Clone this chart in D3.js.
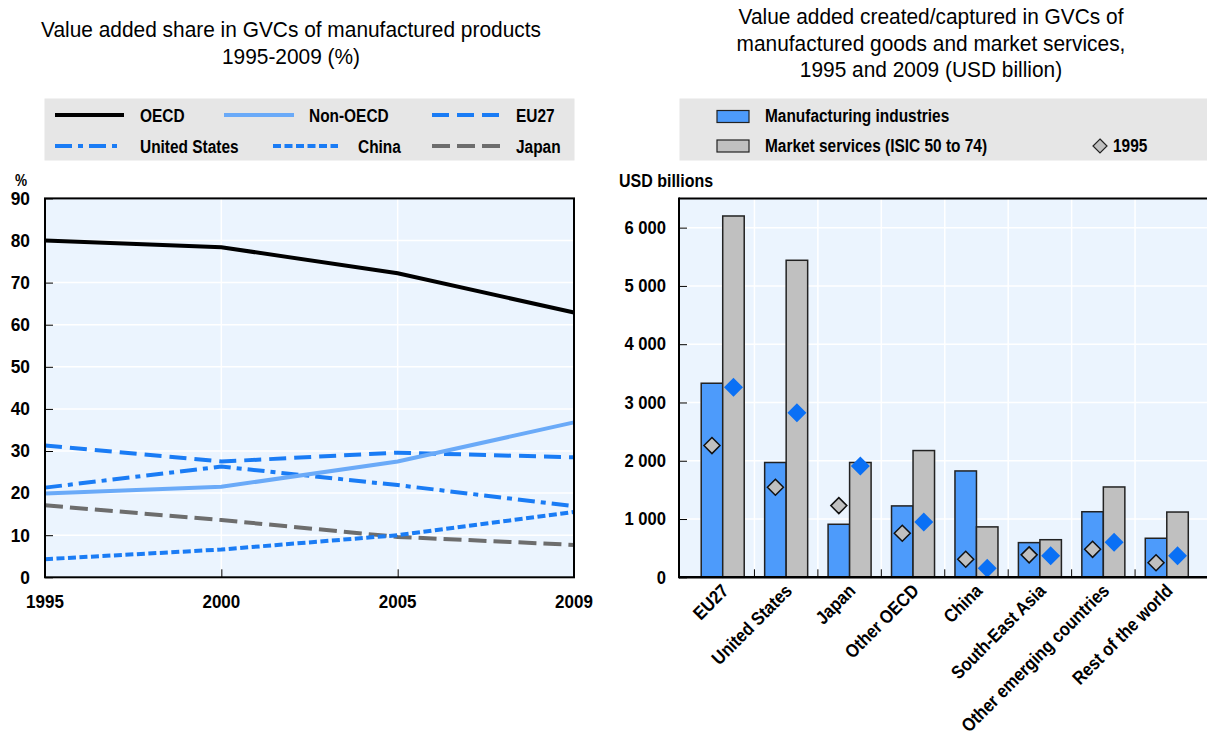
<!DOCTYPE html>
<html>
<head>
<meta charset="utf-8">
<script src="https://cdn.jsdelivr.net/npm/d3@7"></script>
<style>
  html, body { margin: 0; padding: 0; background: #fff; }
  svg { display: block; }
  text { font-family: "Liberation Sans", Arial, sans-serif; fill: #000; }
</style>
</head>
<body>
<svg id="chart" width="1207" height="736"></svg>
<script>
// ---------------- DATA ----------------
const years = ["1995", "2000", "2005", "2009"];
const oecd = [80.0, 78.4, 72.2, 62.9];
const nonOecd = [19.9, 21.5, 27.5, 36.8];
const eu27 = [31.3, 27.5, 29.6, 28.5];
const unitedStates = [21.3, 26.3, 21.9, 16.9];
const china = [4.3, 6.6, 10.0, 15.5];
const japan = [17.1, 13.6, 9.6, 7.7];
const leftTicks = [0, 10, 20, 30, 40, 50, 60, 70, 80, 90];

const regions = ["EU27", "United States", "Japan", "Other OECD", "China", "South-East Asia", "Other emerging countries", "Rest of the world"];
const manuf2009 = [3330, 1970, 910, 1225, 1825, 595, 1125, 670];
const services2009 = [6200, 5440, 1970, 2175, 865, 645, 1550, 1120];
const manuf1995 = [2260, 1545, 1230, 755, 310, 385, 480, 250];
const services1995 = [3260, 2825, 1910, 950, 155, 370, 600, 370];
const rightTicks = [0, 1000, 2000, 3000, 4000, 5000, 6000];
const rightTickLabels = ["0", "1 000", "2 000", "3 000", "4 000", "5 000", "6 000"];

// ---------------- STYLE ----------------
const plotBg = "#ebf4fe";
const legendBg = "#e6e6e6";
const blueBar = "#4d9bfb";
const greyBar = "#c0c0c0";
const blueMark = "#0a70f5";

const svg = d3.select("#chart");

function txt(parent, x, y, str, o) {
  o = o || {};
  const sx = o.sx == null ? 1 : o.sx;
  const rot = o.rotate ? ` rotate(${o.rotate})` : "";
  return parent.append("text")
    .attr("transform", `translate(${x},${y})${rot} scale(${sx},1)`)
    .attr("text-anchor", o.anchor || "start")
    .style("font-size", (o.size || 18) + "px")
    .style("font-weight", o.bold ? "bold" : "normal")
    .text(str);
}

// ================= LEFT CHART =================
const L = { left: 45, right: 574, top: 198.4, bottom: 577.3 };
const xL = d3.scalePoint().domain(years).range([L.left, L.right]);
const yL = d3.scaleLinear().domain([0, 90]).range([L.bottom, L.top]);

txt(svg, 291, 37, "Value added share in GVCs of manufactured products", { size: 22, sx: 0.95, anchor: "middle" });
txt(svg, 291, 64, "1995-2009 (%)", { size: 22, sx: 0.95, anchor: "middle" });

const seriesL = [
  { name: "OECD", values: oecd, color: "#000000", dash: null },
  { name: "Non-OECD", values: nonOecd, color: "#6aaaf8", dash: null },
  { name: "EU27", values: eu27, color: "#1a7cf5", dash: "17,8" },
  { name: "United States", values: unitedStates, color: "#1a7cf5", dash: "17,6,5,6" },
  { name: "China", values: china, color: "#1a7cf5", dash: "8,3.5" },
  { name: "Japan", values: japan, color: "#6d6d6d", dash: "18,7" }
];

// legend left
svg.append("rect").attr("x", 44.5).attr("y", 98.5).attr("width", 530).attr("height", 62)
  .attr("fill", legendBg);
const legL = [
  { s: 0, x1: 55, x2: 124, tx: 140, y: 115 },
  { s: 1, x1: 224, x2: 294, tx: 309, y: 115 },
  { s: 2, x1: 432, x2: 500, tx: 516, y: 115 },
  { s: 3, x1: 55, x2: 122, tx: 140, y: 146 },
  { s: 4, x1: 273, x2: 338, tx: 358, y: 146 },
  { s: 5, x1: 432, x2: 501, tx: 516, y: 146 }
];
legL.forEach(d => {
  const s = seriesL[d.s];
  svg.append("line").attr("x1", d.x1).attr("x2", d.x2).attr("y1", d.y).attr("y2", d.y)
    .attr("stroke", s.color).attr("stroke-width", 4)
    .attr("stroke-dasharray", s.dash);
  txt(svg, d.tx, d.y + 6.5, s.name, { size: 18.6, bold: true, sx: 0.83 });
});

// plot bg
svg.append("rect").attr("x", L.left).attr("y", L.top).attr("width", L.right - L.left)
  .attr("height", L.bottom - L.top).attr("fill", plotBg);
// grid
svg.append("g").selectAll("line").data(leftTicks.slice(1, -1)).join("line")
  .attr("x1", L.left).attr("x2", L.right).attr("y1", d => yL(d)).attr("y2", d => yL(d))
  .attr("stroke", "#fff").attr("stroke-width", 1.5);
svg.append("g").selectAll("line").data(years.slice(1, -1)).join("line")
  .attr("x1", d => xL(d)).attr("x2", d => xL(d)).attr("y1", L.top).attr("y2", L.bottom)
  .attr("stroke", "#fff").attr("stroke-width", 1.5);

// axes
const yAxisL = d3.axisRight(yL).tickValues(leftTicks).tickSize(8).tickFormat("");
svg.append("g").attr("transform", `translate(${L.left},0)`).call(yAxisL)
  .call(g => g.select(".domain").remove())
  .call(g => g.selectAll("line").attr("stroke", "#000").attr("stroke-width", 1));
const yLabG = svg.append("g");
leftTicks.forEach(d => txt(yLabG, 30, yL(d) + 6.3, String(d), { size: 17.9, bold: true, sx: 0.97, anchor: "end" }));
txt(svg, 21, 186, "%", { size: 16, bold: true, sx: 0.85, anchor: "middle" });

const xAxisL = d3.axisTop(xL).tickValues(years.slice(1, -1)).tickSize(8).tickFormat("");
svg.append("g").attr("transform", `translate(0,${L.bottom})`).call(xAxisL)
  .call(g => g.select(".domain").remove())
  .call(g => g.selectAll("line").attr("stroke", "#000").attr("stroke-width", 1));
const xLabG = svg.append("g");
years.forEach(d => txt(xLabG, xL(d), 607.5, d, { size: 17.7, bold: true, sx: 0.96, anchor: "middle" }));

// lines
const lineGen = d3.line().x((d, i) => xL(years[i])).y(d => yL(d));
[5, 4, 3, 2, 1, 0].forEach(i => {
  const s = seriesL[i];
  svg.append("path").datum(s.values).attr("d", lineGen)
    .attr("fill", "none").attr("stroke", s.color).attr("stroke-width", 4)
    .attr("stroke-dasharray", s.dash);
});

// border
svg.append("rect").attr("x", L.left).attr("y", L.top).attr("width", L.right - L.left)
  .attr("height", L.bottom - L.top).attr("fill", "none").attr("stroke", "#000").attr("stroke-width", 2);

// ================= RIGHT CHART =================
const R = { left: 679, right: 1211, top: 198.5, bottom: 577.3 };
const x0 = d3.scaleBand().domain(regions).range([691, 1198.5]).paddingInner(0).paddingOuter(0);
const x1 = d3.scaleBand().domain(["m", "s"]).range([0, x0.bandwidth()]).paddingInner(0).paddingOuter(0.475);
const yR = d3.scaleLinear().domain([0, 6500]).range([R.bottom, R.top]);

txt(svg, 931, 24, "Value added created/captured in GVCs of", { size: 22, sx: 0.95, anchor: "middle" });
txt(svg, 931, 50.5, "manufactured goods and market services,", { size: 22, sx: 0.95, anchor: "middle" });
txt(svg, 931, 77, "1995 and 2009 (USD billion)", { size: 22, sx: 0.95, anchor: "middle" });

// legend right
const diamond = (half) => `M0,${-half}L${half},0L0,${half}L${-half},0Z`;
svg.append("rect").attr("x", 679.5).attr("y", 98.5).attr("width", 540).attr("height", 62)
  .attr("fill", legendBg);
svg.append("rect").attr("x", 717).attr("y", 110.5).attr("width", 32).attr("height", 12)
  .attr("fill", blueBar).attr("stroke", "#222").attr("stroke-width", 1.2);
txt(svg, 765, 122, "Manufacturing industries", { size: 18.6, bold: true, sx: 0.83 });
svg.append("rect").attr("x", 717).attr("y", 140).attr("width", 32).attr("height", 12)
  .attr("fill", greyBar).attr("stroke", "#222").attr("stroke-width", 1.2);
txt(svg, 765, 152, "Market services (ISIC 50 to 74)", { size: 18.6, bold: true, sx: 0.83 });
svg.append("path").attr("d", diamond(7))
  .attr("transform", "translate(1100,146)")
  .attr("fill", greyBar).attr("stroke", "#222").attr("stroke-width", 1.2);
txt(svg, 1113, 152, "1995", { size: 18.6, bold: true, sx: 0.83 });

txt(svg, 619, 187, "USD billions", { size: 18.6, bold: true, sx: 0.86 });

// plot bg
svg.append("rect").attr("x", R.left).attr("y", R.top).attr("width", R.right - R.left)
  .attr("height", R.bottom - R.top).attr("fill", plotBg);
// grid
svg.append("g").selectAll("line").data(rightTicks.slice(1)).join("line")
  .attr("x1", R.left).attr("x2", R.right).attr("y1", d => yR(d)).attr("y2", d => yR(d))
  .attr("stroke", "#fff").attr("stroke-width", 1.5);
const boundaries = regions.slice(1).map(r => x0(r));
svg.append("g").selectAll("line").data(boundaries).join("line")
  .attr("x1", d => d).attr("x2", d => d).attr("y1", R.top).attr("y2", R.bottom)
  .attr("stroke", "#fff").attr("stroke-width", 1.5);

// y axis ticks
const yAxisR = d3.axisRight(yR).tickValues(rightTicks).tickSize(8).tickFormat("");
svg.append("g").attr("transform", `translate(${R.left},0)`).call(yAxisR)
  .call(g => g.select(".domain").remove())
  .call(g => g.selectAll("line").attr("stroke", "#000").attr("stroke-width", 1));
const yRLab = svg.append("g");
rightTicks.forEach((d, i) => txt(yRLab, 666, yR(d) + 6.3, rightTickLabels[i], { size: 17.9, bold: true, sx: 0.93, anchor: "end" }));

// x ticks at boundaries
svg.append("g").selectAll("line").data(boundaries).join("line")
  .attr("x1", d => d).attr("x2", d => d).attr("y1", R.bottom).attr("y2", R.bottom - 8)
  .attr("stroke", "#000").attr("stroke-width", 1);

// bars
const barG = svg.append("g");
regions.forEach((r, i) => {
  const bx = x0(r);
  barG.append("rect").attr("x", bx + x1("m")).attr("y", yR(manuf2009[i]))
    .attr("width", x1.bandwidth()).attr("height", yR(0) - yR(manuf2009[i]))
    .attr("fill", blueBar).attr("stroke", "#222").attr("stroke-width", 1.5);
  barG.append("rect").attr("x", bx + x1("s")).attr("y", yR(services2009[i]))
    .attr("width", x1.bandwidth()).attr("height", yR(0) - yR(services2009[i]))
    .attr("fill", greyBar).attr("stroke", "#222").attr("stroke-width", 1.5);
});
// diamonds
regions.forEach((r, i) => {
  const bx = x0(r);
  svg.append("path").attr("d", diamond(8))
    .attr("transform", `translate(${bx + x1("m") + x1.bandwidth() / 2},${yR(manuf1995[i])})`)
    .attr("fill", greyBar).attr("stroke", "#111").attr("stroke-width", 1.5);
  svg.append("path").attr("d", diamond(9.5))
    .attr("transform", `translate(${bx + x1("s") + x1.bandwidth() / 2},${yR(services1995[i])})`)
    .attr("fill", blueMark);
});

// category labels
const catG = svg.append("g");
regions.forEach(d => txt(catG, x0(d) + x0.bandwidth() / 2 + 7, 592, d,
  { size: 18.6, bold: true, sx: 0.88, anchor: "end", rotate: -45 }));

// border
svg.append("line").attr("x1", R.left).attr("x2", R.right).attr("y1", R.top).attr("y2", R.top)
  .attr("stroke", "#000").attr("stroke-width", 2);
svg.append("line").attr("x1", R.left).attr("x2", R.left).attr("y1", R.top - 1).attr("y2", R.bottom + 1)
  .attr("stroke", "#000").attr("stroke-width", 2);
svg.append("line").attr("x1", R.left).attr("x2", R.right).attr("y1", R.bottom).attr("y2", R.bottom)
  .attr("stroke", "#000").attr("stroke-width", 2.5);
</script>
</body>
</html>
